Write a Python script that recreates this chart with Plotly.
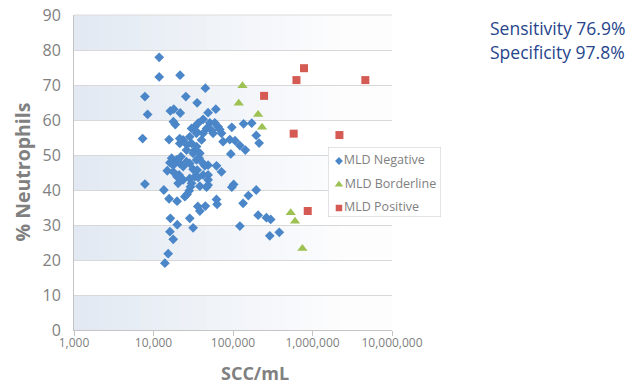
import plotly.graph_objects as go

# ---- data (SCC/mL, % neutrophils) ----
neg_scc = [11800, 11800, 21600, 44900, 7800, 25500, 35400, 8430, 16300, 18000,
           21700, 17800, 18800, 60800, 48600, 7300, 15700, 136000, 172000, 96600,
           196000, 213000, 106000, 75000, 91200, 122000, 143000, 93800, 7800, 102000,
           96600, 196000, 156000, 134000, 62000, 63100, 36100, 38300, 44900, 28600,
           31500, 207000, 263000, 298000, 122000, 290000, 382000, 13500, 15700, 19800,
           24800, 26500, 28100, 16300, 19900, 16100, 17700, 15300, 13900, 14900,
           21400, 23600, 26500, 28600, 30100, 33100, 34800, 19500, 21400, 23600,
           26000, 28600, 31500, 21000, 23600, 28600, 33100, 35400, 29200, 36400,
           38300, 46500, 48600, 48600, 34800, 38300, 44200, 48600, 62000, 71600,
           16100, 17700, 16900, 21400, 30100, 33100, 34800, 36400, 20400, 22100,
           19800, 42100, 51100, 59000, 64900, 71600, 46500, 53700, 42100, 40200,
           34800, 31500, 37500, 56200, 68200, 26000, 22100, 42100, 42100, 17700,
           30100, 48600]
neg_pct = [77.9, 72.3, 72.8, 69.1, 66.7, 66.7, 64.9, 61.6, 62.6, 63.1,
           62.0, 59.5, 58.7, 63.1, 62.1, 54.7, 54.4, 58.9, 59.1, 57.9,
           55.6, 53.4, 54.1, 53.8, 54.4, 52.7, 51.4, 50.3, 41.7, 41.6,
           40.8, 40.0, 38.4, 36.2, 37.3, 35.9, 35.3, 34.0, 35.4, 31.9,
           29.2, 32.8, 32.1, 31.6, 29.7, 26.9, 27.9, 40.0, 37.5, 36.8,
           38.1, 38.8, 39.8, 31.9, 30.1, 28.1, 25.9, 21.8, 19.1, 45.5,
           53.3, 54.3, 52.9, 55.2, 53.3, 51.4, 56.2, 48.6, 47.6, 46.7,
           48.1, 47.6, 45.9, 44.3, 42.9, 43.3, 43.8, 45.7, 40.9, 43.6,
           41.1, 40.8, 44.3, 42.9, 48.6, 50.5, 46.9, 47.1, 46.9, 45.2,
           47.8, 47.1, 49.1, 54.7, 57.6, 58.1, 56.7, 59.1, 41.9, 43.4,
           43.8, 60.2, 59.2, 59.2, 58.1, 56.2, 57.6, 57.1, 56.2, 54.3,
           52.4, 50.5, 49.1, 56.2, 57.3, 51.4, 49.5, 47.6, 44.3, 45.2,
           41.9, 41.4]

bord_scc = [131600, 118000, 207000, 232000, 532000, 603000, 746000]
bord_pct = [69.8, 64.8, 61.6, 57.9, 33.5, 31.1, 23.3]

pos_scc = [782000, 628000, 4620000, 246000, 580000, 2180000, 871000]
pos_pct = [74.8, 71.4, 71.4, 66.9, 56.1, 55.7, 34.0]

x_tickvals = [1e3, 1e4, 1e5, 1e6, 1e7]
x_ticktext = ["1,000", "10,000", "100,000", "1,000,000", "10,000,000"]
y_ticks = [0, 10, 20, 30, 40, 50, 60, 70, 80, 90]

series_names = ["MLD Negative", "MLD Borderline", "MLD Positive"]
annotation_lines = ["Sensitivity 76.9%", "Specificity 97.8%"]

FONT = "Open Sans"
GRAY = "#808080"
BLUE, GREEN, RED = "#4a86c8", "#9dc152", "#d45a53"
symbols = ["diamond", "triangle-up", "square"]
sizes = [7.5, 9, 8]
colors = [BLUE, GREEN, RED]

# page geometry (page = figure offset by the 8px body margin)
PX0, PX1, PY0, PY1 = 74, 630, 15, 330     # paper area on the page
MAIN_R = 392                               # right edge of the main plot
W = PX1 - PX0
H = PY1 - PY0
def fx(p):
    return (p - PX0) / W
def fy(p):
    return (PY1 - p) / H

LEG_X = [-0.097, 0.903]
LEG_Y = [2.383, -0.596]

fig = go.Figure()
for xs, ys, i in [(neg_scc, neg_pct, 0), (bord_scc, bord_pct, 1), (pos_scc, pos_pct, 2)]:
    fig.add_trace(go.Scatter(x=xs, y=ys, mode="markers", name=series_names[i],
                             showlegend=False, xaxis="x", yaxis="y",
                             marker=dict(symbol=symbols[i], size=sizes[i], color=colors[i])))

# custom legend: its own little subplot
for i in range(3):
    fig.add_trace(go.Scatter(x=[0], y=[i], mode="markers+text", text=[series_names[i]],
                             textposition="middle right", showlegend=False,
                             hoverinfo="skip", xaxis="x2", yaxis="y2",
                             textfont=dict(size=12.5, color=GRAY, family=FONT),
                             marker=dict(symbol=symbols[i], size=sizes[i] - 1.5,
                                         color=colors[i])))

# alternating shaded bands with a soft left-to-right gradient
shapes = []
N = 24
c0 = (226, 233, 242)
c1 = (253, 253, 254)
for lo in range(0, 90, 20):
    for i in range(N):
        t = i / (N - 1)
        t2 = min(1.0, t * 1.15)
        col = tuple(round(c0[k] + (c1[k] - c0[k]) * t2) for k in range(3))
        shapes.append(dict(type="rect", xref="x domain", yref="y",
                           x0=i / N, x1=(i + 1) / N + 0.002, y0=lo, y1=lo + 10,
                           fillcolor="rgb(%d,%d,%d)" % col, line=dict(width=0),
                           layer="below"))
# faint top border line of the plot area
shapes.append(dict(type="line", xref="x domain", yref="y domain", x0=0, x1=1, y0=1, y1=1,
                   line=dict(color="#dcdcdc", width=1), layer="below"))
# legend frame (in the legend subplot, which sits above the main one)
shapes.append(dict(type="rect", xref="x2", yref="y2", x0=LEG_X[0], x1=LEG_X[1],
                   y0=LEG_Y[0], y1=LEG_Y[1],
                   fillcolor="white", line=dict(color="#c8c8c8", width=1), layer="below"))

fig.update_layout(
    width=638, height=385,
    margin=dict(l=PX0 - 8, r=638 - (PX1 - 8), t=PY0 - 8, b=385 - (PY1 - 8)),
    paper_bgcolor="white", plot_bgcolor="rgba(0,0,0,0)",
    font=dict(family=FONT, color=GRAY),
    shapes=shapes,
    showlegend=False,
    xaxis=dict(type="log", range=[3, 7], domain=[0, fx(MAIN_R)], anchor="y",
               tickvals=x_tickvals, ticktext=x_ticktext, automargin=False,
               ticklabeloverflow="allow", ticklabelstandoff=-3,
               showgrid=False, zeroline=False, showline=True, linecolor="#c4c4c4",
               linewidth=1, ticks="outside", ticklen=5, tickcolor="#c4c4c4",
               tickfont=dict(size=12, color=GRAY, family=FONT)),
    yaxis=dict(range=[0, 90], tickvals=y_ticks, showgrid=True, gridcolor="#d8d8d8",
               gridwidth=1, zeroline=False, showline=True, linecolor="#c4c4c4",
               linewidth=1, ticks="", ticklabelstandoff=9, automargin=False,
               ticklabeloverflow="allow",
               anchor="x", tickfont=dict(size=16, color=GRAY, family=FONT)),
    xaxis2=dict(domain=[fx(328), fx(441)], range=LEG_X, showgrid=False, zeroline=False,
                showticklabels=False, showline=False, ticks="",
                anchor="y2", fixedrange=True),
    yaxis2=dict(domain=[fy(217), fy(147)], range=LEG_Y, showgrid=False, zeroline=False,
                showticklabels=False, showline=False, ticks="",
                anchor="x2", fixedrange=True),
    annotations=[
        dict(text="<b>SCC/mL</b>", xref="paper", yref="paper", x=fx(255),
             y=fy(373), xanchor="center", yanchor="middle", showarrow=False,
             font=dict(size=18, color=GRAY, family=FONT)),
        dict(text="<b>% Neutrophils</b>", xref="paper", yref="paper", x=fx(22),
             y=fy(172.5), xanchor="center", yanchor="middle", textangle=-90,
             showarrow=False, font=dict(size=19.5, color=GRAY, family=FONT)),
        dict(text=annotation_lines[0], xref="paper", yref="paper", x=fx(627),
             y=fy(28), xanchor="right", yanchor="middle", showarrow=False,
             font=dict(size=17.5, color="#26458c", family=FONT)),
        dict(text=annotation_lines[1], xref="paper", yref="paper", x=fx(627),
             y=fy(52), xanchor="right", yanchor="middle", showarrow=False,
             font=dict(size=17.5, color="#26458c", family=FONT)),
    ],
)

fig.write_html("out.html")
